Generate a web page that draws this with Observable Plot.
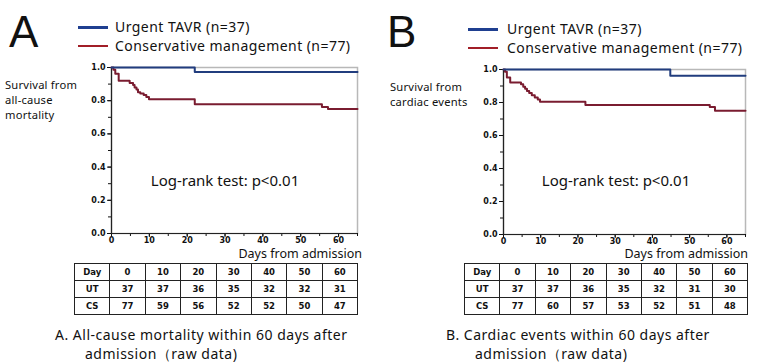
<!DOCTYPE html>
<html><head><meta charset="utf-8">
<script src="https://cdn.jsdelivr.net/npm/d3@7"></script>
<script src="https://cdn.jsdelivr.net/npm/@observablehq/plot@0.6"></script>
<style>
body{margin:0;background:#fff;}
#root{position:relative;width:770px;height:362px;overflow:hidden;background:#fff;font-family:"Noto Sans",sans-serif;color:#111;}
.abs{position:absolute;white-space:nowrap;}
.big{font-family:"Liberation Sans",sans-serif;font-size:44px;line-height:44px;}
.leg{font-size:14px;line-height:16px;letter-spacing:0.45px;}
.legline{position:absolute;height:2.5px;}
.ylab{font-size:11.2px;line-height:11px;letter-spacing:0.2px;}
.logrank{font-size:15px;transform:translate(-50%,-50%);}
.xlab{font-size:12.5px;line-height:13px;transform:translateX(-100%);}
.cap{font-size:14px;line-height:16px;letter-spacing:0.5px;}
table.nr{position:absolute;border-collapse:collapse;table-layout:fixed;width:284px;font-family:"DejaVu Sans",sans-serif;font-weight:bold;font-size:8.5px;}
table.nr td{border:1.5px solid #222;height:16px;text-align:center;padding:0;}
svg{position:absolute;}
</style></head><body><div id="root"></div>
<script>
// ----- data -----
const dayTicks = [0, 10, 20, 30, 40, 50, 60];
const survTicks = [0, 0.2, 0.4, 0.6, 0.8, 1.0];
const seriesNames = ["Urgent TAVR (n=37)", "Conservative management (n=77)"];

// Panel A: all-cause mortality
const aUTdays = [0, 22, 65];
const aUTsurv = [1, 0.973, 0.973];
const aCSdays = [0, 0.5, 1, 1.9, 4.8, 5.7, 6.1, 6.6, 7.0, 7.6, 8.5, 9.2, 9.9, 22, 55.6, 57.2, 65];
const aCSsurv = [1, 0.987, 0.962, 0.920, 0.907, 0.895, 0.879, 0.867, 0.851, 0.843, 0.835, 0.823, 0.808, 0.778, 0.762, 0.750, 0.750];
const aUTrisk = [37, 37, 36, 35, 32, 32, 31];
const aCSrisk = [77, 59, 56, 52, 52, 50, 47];

// Panel B: cardiac events
const bUTdays = [0, 44.8, 65];
const bUTsurv = [1, 0.962, 0.962];
const bCSdays = [0, 0.4, 0.9, 1.8, 4.7, 5.3, 5.8, 6.3, 6.9, 7.6, 8.4, 9.2, 9.8, 22, 55.4, 56.8, 65];
const bCSsurv = [1, 0.986, 0.951, 0.921, 0.911, 0.896, 0.883, 0.870, 0.857, 0.844, 0.831, 0.818, 0.805, 0.785, 0.772, 0.750, 0.750];
const bUTrisk = [37, 37, 36, 35, 32, 31, 30];
const bCSrisk = [77, 60, 57, 53, 52, 51, 48];

const colorUTcurve = "#213d7e", colorCScurve = "#7a1c30";
const colorUTleg = "#1f3f90", colorCSleg = "#a11e27";

const root = document.getElementById("root");
function el(tag, cls, css, html) {
  const e = document.createElement(tag);
  if (cls) e.className = cls;
  Object.assign(e.style, css || {});
  if (html != null) e.innerHTML = html;
  root.appendChild(e);
  return e;
}
const toRows = (days, surv) => days.map((d, i) => ({day: d, surv: surv[i]}));

function km(ut, cs, m) {
  const minorX = d3.range(0, 66, 5);
  const minorY = d3.range(0, 1.001, 0.1);
  return Plot.plot({
    width: 385, height: 210,
    marginLeft: m.l, marginRight: m.r, marginTop: m.t, marginBottom: m.b,
    x: {domain: [0, 65]},
    y: {domain: [0, 1]},
    style: {fontFamily: "DejaVu Sans", fontSize: "8px", fontWeight: "bold", color: "#111", background: "transparent"},
    marks: [
      Plot.frame({stroke: "#b8b8b8", strokeWidth: 1.5}),
      Plot.axisY(minorY, {tickSize: 3, tickFormat: () => "", label: null}),
      Plot.axisY(survTicks, {tickSize: 4, tickPadding: 2, tickFormat: d3.format(".1f"), label: null}),
      Plot.axisX(minorX, {tickSize: 3, tickFormat: () => "", label: null}),
      Plot.axisX(dayTicks, {tickSize: 4, tickPadding: 0, label: null}),
      Plot.ruleX([0], {stroke: "#222", strokeWidth: 1.2}),
      Plot.ruleY([0], {stroke: "#222", strokeWidth: 1.2}),
      Plot.line(cs, {x: "day", y: "surv", curve: "step-after", stroke: colorCScurve, strokeWidth: 2}),
      Plot.line(ut, {x: "day", y: "surv", curve: "step-after", stroke: colorUTcurve, strokeWidth: 2})
    ]
  });
}

function table(left, top, ut, cs) {
  const t = el("table", "nr", {left: left + "px", top: top + "px"});
  const rows = [["Day", ...dayTicks], ["UT", ...ut], ["CS", ...cs]];
  for (const r of rows) {
    const tr = document.createElement("tr");
    for (const v of r) { const td = document.createElement("td"); td.textContent = v; tr.appendChild(td); }
    t.appendChild(tr);
  }
}

function panel(ox, p) {
  el("div", "abs big", {left: (ox + p.letterX) + "px", top: "10px"}, p.letter);
  el("div", "legline", {left: (ox + p.legX) + "px", top: (26 + p.legDy) + "px", width: "30px", background: colorUTleg});
  el("div", "legline", {left: (ox + p.legX) + "px", top: (44.5 + p.legDy) + "px", width: "30px", background: colorCSleg});
  el("div", "abs leg", {left: (ox + p.legTextX) + "px", top: (19 + p.legDy) + "px"}, seriesNames[0]);
  el("div", "abs leg", {left: (ox + p.legTextX) + "px", top: (37.5 + p.legDy) + "px"}, seriesNames[1]);
  p.ylab.forEach((line, i) =>
    el("div", "abs ylab", {left: (ox + 5) + "px", top: (p.ylabTop + i * 15) + "px"}, line));
  const svg = km(p.ut, p.cs, p.m);
  svg.style.left = ox + "px"; svg.style.top = "50px";
  root.appendChild(svg);
  el("div", "abs logrank", {left: (ox + p.lrX) + "px", top: "180px"}, "Log-rank test: p&lt;0.01");
  el("div", "abs xlab", {left: (ox + p.xlabRight) + "px", top: "247px"}, "Days from admission");
  table(ox + p.tableX, 263, p.utRisk, p.csRisk);
  el("div", "abs cap", {left: (ox + p.capX) + "px", top: "327px"}, p.cap);
  el("div", "abs cap", {left: (ox + p.cap2X) + "px", top: "345.5px"}, "admission（raw data)");
}

panel(0, {letter: "A", letterX: 9, legX: 78, legTextX: 115, legDy: 0,
  ylab: ["Survival from", "all-cause", "mortality"], ylabTop: 79,
  ut: toRows(aUTdays, aUTsurv), cs: toRows(aCSdays, aCSsurv),
  m: {l: 111, r: 28, t: 17, b: 27}, lrX: 225, xlabRight: 362, tableX: 74,
  utRisk: aUTrisk, csRisk: aCSrisk,
  cap: "A. All-cause mortality within 60 days after", capX: 55, cap2X: 85});
panel(385, {letter: "B", letterX: 2, legX: 83, legTextX: 122, legDy: 2,
  ylab: ["Survival from", "cardiac events"], ylabTop: 81,
  ut: toRows(bUTdays, bUTsurv), cs: toRows(bCSdays, bCSsurv),
  m: {l: 118, r: 25, t: 19, b: 26}, lrX: 231, xlabRight: 363, tableX: 79,
  utRisk: bUTrisk, csRisk: bCSrisk,
  cap: "B. Cardiac events within 60 days after", capX: 61, cap2X: 90});
</script></body></html>
